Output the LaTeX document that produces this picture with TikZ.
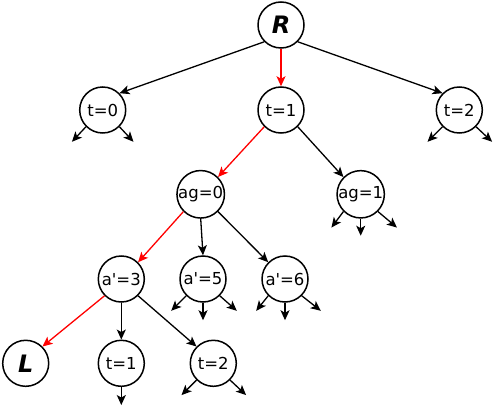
\documentclass[tikz,border=0pt]{standalone}
\usepackage{fontspec}
\setmainfont{DejaVu Sans}
\usetikzlibrary{arrows.meta}

\begin{document}
\begin{tikzpicture}[x=1pt,y=-1pt,
    state/.style={draw,circle,line width=1.5pt,minimum size=46pt,inner sep=0pt,
                  font=\fontsize{16.5}{18}\selectfont},
    term/.style={state,font=\fontsize{24}{26}\selectfont\bfseries\itshape},
    edge/.style={line width=1.3pt,-{Stealth[length=10pt,width=9pt,inset=2.5pt]}},
    best/.style={edge,red}]
  \useasboundingbox (0,0) rectangle (494,406);
  % tree nodes
  \node[term]  (root) at (281,25)      {R};
  \node[state] (t0)   at (102.7,110)   {t=0};
  \node[state] (t1)   at (281,110)     {t=1};
  \node[state] (t2)   at (459.3,110)   {t=2};
  \node[state] (ag0)  at (200.7,194.3) {ag=0};
  \node[state] (ag1)  at (360.7,194.3) {ag=1};
  \node[state] (a3)   at (121.3,279)   {a\textquotesingle=3};
  \node[state] (a5)   at (203,279)     {a\textquotesingle=5};
  \node[state] (a6)   at (285,279)     {a\textquotesingle=6};
  \node[term]  (leaf) at (25.7,363.3)  {L};
  \node[state] (u1)   at (121.3,363.3) {t=1};
  \node[state] (u2)   at (213.3,363.3) {t=2};
  % connectors
  \draw[edge] (root.south west) -- (t0.north east);
  \draw[best] (root.south) -- (t1.north);
  \draw[edge] (root.south east) -- (t2.north west);
  \draw[best] (t1.south west) -- (ag0.north east);
  \draw[edge] (t1.south east) -- (ag1.north west);
  \draw[best] (ag0.south west) -- (a3.north east);
  \draw[edge] (ag0.south) -- (a5.north);
  \draw[edge] (ag0.south east) -- (a6.north west);
  \draw[best] (a3.south west) -- (leaf.north east);
  \draw[edge] (a3.south) -- (u1.north);
  \draw[edge] (a3.south east) -- (u2.north west);
  % open branches
  \foreach \src/\anc/\dx/\dy [count=\i] in {
      t0/south west/-14/15, t0/south east/14/15,
      t2/south west/-15/15, t2/south east/16/15,
      ag1/south west/-12/16, ag1/south/0/17, ag1/south east/19/16,
      a5/south west/-15/15, a5/south/0/17.5, a5/south east/17/15,
      a6/south west/-12/15, a6/south/0/17.5, a6/south east/19/15,
      u1/south/0/18,
      u2/south west/-15/15, u2/south east/16/15} {
    \path (\src.\anc) ++(\dx,\dy) coordinate (s\i);
    \draw[edge] (\src.\anc) -- (s\i);
  }
\end{tikzpicture}
\end{document}
